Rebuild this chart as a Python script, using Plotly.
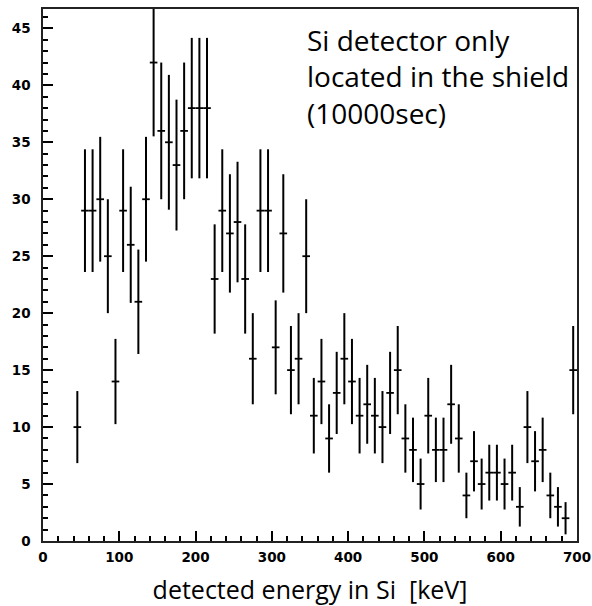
import plotly.graph_objects as go
import numpy as np

# bin centers (keV), 10 keV bins from 40 to 700
energy_keV = [45, 55, 65, 75, 85, 95, 105, 115, 125, 135,
              145, 155, 165, 175, 185, 195, 205, 215, 225, 235,
              245, 255, 265, 275, 285, 295, 305, 315, 325, 335,
              345, 355, 365, 375, 385, 395, 405, 415, 425, 435,
              445, 455, 465, 475, 485, 495, 505, 515, 525, 535,
              545, 555, 565, 575, 585, 595, 605, 615, 625, 635,
              645, 655, 665, 675, 685, 695]
counts = [10, 29, 29, 30, 25, 14, 29, 26, 21, 30,
          42, 36, 35, 33, 36, 38, 38, 38, 23, 29,
          27, 28, 23, 16, 29, 29, 17, 27, 15, 16,
          25, 11, 14, 9, 13, 16, 14, 11, 12, 11,
          10, 13, 15, 9, 8, 5, 11, 8, 8, 12,
          9, 4, 7, 5, 6, 6, 5, 6, 3, 10,
          7, 8, 4, 3, 2, 15]
bin_half_width = 5
errors = [float(np.sqrt(c)) for c in counts]

x_tick_vals = [0, 100, 200, 300, 400, 500, 600, 700]
y_tick_vals = [0, 5, 10, 15, 20, 25, 30, 35, 40, 45]

fig = go.Figure()
fig.add_trace(go.Scatter(
    x=energy_keV, y=counts, mode="markers",
    marker=dict(size=1, color="black"),
    error_x=dict(type="constant", value=bin_half_width, width=0, thickness=1.8, color="black"),
    error_y=dict(type="data", array=errors, width=0, thickness=2, color="black"),
    showlegend=False, hoverinfo="x+y",
))

tickfont = dict(family="DejaVu Sans, sans-serif", size=13.5, color="black", weight="bold")

fig.update_layout(
    width=592, height=606,
    margin=dict(l=43, r=15, t=9, b=65),
    paper_bgcolor="white", plot_bgcolor="white",
    xaxis=dict(
        range=[0, 700], tickvals=x_tick_vals, ticks="inside", ticklen=10, tickwidth=1.5,
        tickcolor="black", showline=True, linecolor="#222", linewidth=1.5, mirror=True,
        showgrid=False, zeroline=False, tickfont=tickfont, ticklabelstandoff=3,
        automargin=False,
        minor=dict(dtick=20, ticks="inside", ticklen=5, tickwidth=1.5, tickcolor="black", showgrid=False),
        title=dict(text="detected energy in Si  [keV]",
                   font=dict(family="Open Sans, sans-serif", size=25, color="black"),
                   standoff=18),
    ),
    yaxis=dict(
        range=[0, 46.7], tickvals=y_tick_vals, ticks="inside", ticklen=10, tickwidth=1.5,
        tickcolor="black", showline=True, linecolor="#222", linewidth=1.5, mirror=True,
        showgrid=False, zeroline=False, tickfont=tickfont, ticklabelstandoff=8,
        automargin=False,
        minor=dict(dtick=1, ticks="inside", ticklen=5, tickwidth=1.5, tickcolor="black", showgrid=False),
    ),
    annotations=[dict(
        text="Si detector only<br>located in the shield<br>(10000sec)",
        xref="paper", yref="paper", x=0.49, y=0.982, xanchor="left", yanchor="top",
        align="left", showarrow=False,
        font=dict(family="Open Sans, sans-serif", size=28, color="black"),
    )],
)

fig.write_html("out.html")
